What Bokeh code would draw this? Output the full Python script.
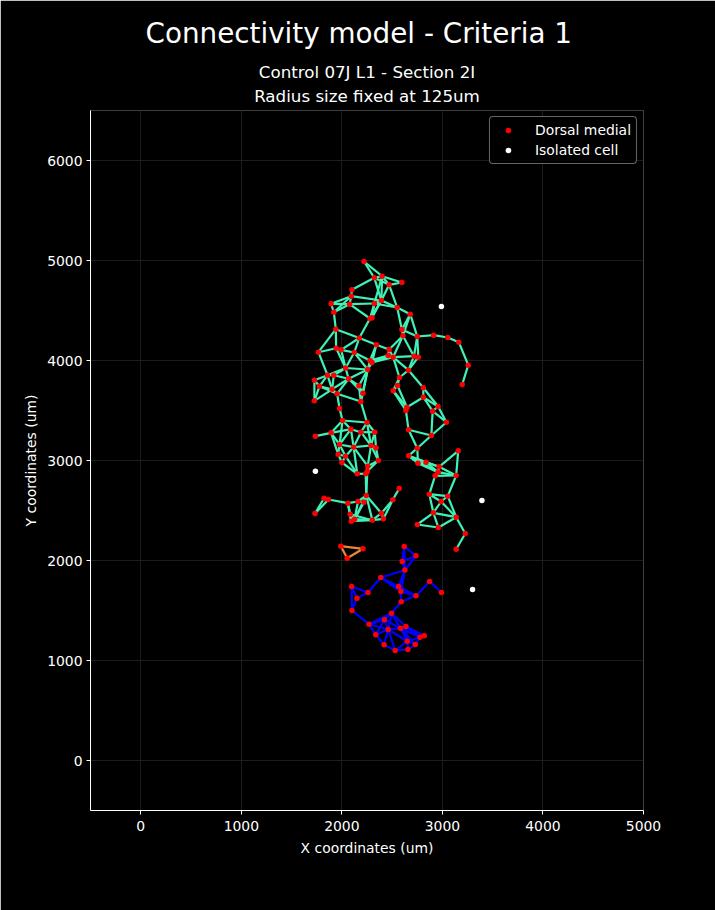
from bokeh.plotting import figure
from bokeh.models import Title, Range1d, Legend, LegendItem
from bokeh.embed import file_html
from bokeh.resources import INLINE

# ---- data (um) ----
# main (green) component
green_x = [2220, 2323, 2400, 2597, 2470, 2100, 2093, 1893, 2077, 2323,
           2393, 1920, 2550, 2680, 2280, 2300, 1940, 2173, 2597, 2607,
           2750, 2913, 3053, 3163, 3257, 3197, 1767, 1943, 1993, 2123,
           2343, 2470, 2460, 2510, 2717, 2760, 2280, 2300, 2037, 2257,
           2663, 1857, 1920, 1727, 2067, 2573, 1777, 1903, 2170, 2553,
           2510, 2810, 1953, 2210, 1727, 2188, 2810, 2957, 2903, 2647,
           2637, 1977, 2007, 2250, 3040, 1737, 1893, 2090, 2190, 2327,
           2663, 2890, 1977, 2117, 2290, 2340, 2750, 1963, 2037, 2000,
           2363, 2663, 3157, 2757, 2837, 2967, 2957, 2927, 3137, 2257,
           2253, 2237, 2153, 2870, 3053, 2987, 2243, 2570, 2507, 1823,
           1867, 2060, 2160, 2220, 1733, 2083, 2127, 2093, 2303, 2393,
           2413, 2910, 3137, 2750, 2960, 3227, 3137]
green_y = [4990, 4827, 4843, 4780, 4757, 4707, 4643, 4567, 4563, 4570,
           4600, 4483, 4530, 4463, 4420, 4427, 4313, 4225, 4310, 4247,
           4240, 4253, 4230, 4183, 3953, 3760, 4083, 4123, 4107, 4080,
           4157, 4110, 4050, 4033, 4043, 4033, 4000, 3980, 3925, 3910,
           3903, 3853, 3853, 3803, 3817, 3830, 3742, 3712, 3748, 3750,
           3697, 3727, 3668, 3673, 3597, 3590, 3633, 3540, 3493, 3533,
           3500, 3520, 3400, 3380, 3383, 3243, 3277, 3313, 3283, 3283,
           3307, 3250, 3160, 3133, 3150, 3127, 3123, 3063, 3043, 2980,
           3000, 3047, 3097, 2973, 2983, 2937, 2883, 2847, 2850, 2943,
           2893, 2867, 2867, 2663, 2643, 2590, 2650, 2720, 2607, 2623,
           2610, 2573, 2590, 2583, 2470, 2463, 2413, 2393, 2403, 2473,
           2417, 2477, 2433, 2360, 2330, 2270, 2113]
green_edges = [
    (0, 1), (0, 2), (1, 2), (2, 3), (4, 3), (1, 4), (2, 4), (1, 5), (1, 10), (2, 10),
    (2, 9), (4, 10), (4, 12), (5, 6), (6, 7), (6, 8), (7, 8), (7, 11), (6, 11), (8, 11),
    (8, 9), (6, 10), (9, 12), (10, 12), (9, 10), (8, 14), (9, 14), (10, 14), (9, 15),
    (10, 15), (14, 15), (11, 16), (14, 17), (16, 17), (12, 13), (12, 18), (13, 18),
    (13, 19), (13, 20), (18, 19), (18, 20), (20, 21), (21, 22), (22, 23), (23, 24),
    (24, 25), (16, 27), (16, 26), (17, 29), (17, 28), (17, 30), (26, 27), (26, 41),
    (27, 28), (27, 38), (28, 29), (28, 38), (29, 38), (29, 36), (29, 39), (30, 31),
    (30, 36), (30, 37), (31, 32), (31, 33), (32, 33), (36, 32), (37, 32), (37, 33),
    (36, 33), (19, 31), (19, 34), (20, 34), (20, 35), (19, 33), (33, 34), (34, 35),
    (33, 40), (34, 40), (35, 40), (36, 37), (37, 39), (36, 39), (38, 39), (38, 44),
    (38, 41), (38, 42), (39, 44), (39, 48), (39, 53), (39, 55), (41, 42), (41, 43),
    (41, 46), (42, 47), (41, 47), (42, 44), (43, 46), (43, 54), (44, 47), (44, 48),
    (44, 52), (44, 53), (46, 47), (46, 54), (46, 52), (47, 52), (47, 54), (48, 53),
    (48, 55), (52, 61), (52, 55), (53, 55), (61, 62), (55, 63), (40, 45), (40, 51),
    (33, 45), (45, 49), (45, 50), (49, 50), (49, 59), (50, 59), (50, 60), (51, 56),
    (51, 57), (56, 57), (56, 58), (57, 58), (57, 64), (58, 64), (59, 60), (59, 56),
    (62, 63), (62, 66), (62, 67), (62, 72), (63, 68), (63, 69), (63, 74), (65, 66),
    (66, 67), (66, 72), (66, 77), (67, 68), (67, 72), (67, 73), (68, 69), (68, 73),
    (68, 74), (69, 74), (69, 75), (72, 73), (72, 77), (72, 78), (73, 74), (73, 78),
    (73, 89), (74, 75), (74, 89), (74, 80), (75, 80), (77, 78), (77, 79), (78, 79),
    (78, 92), (79, 92), (73, 92), (80, 89), (80, 90), (89, 90), (90, 91), (91, 92),
    (89, 91), (91, 96), (90, 96), (60, 70), (70, 71), (70, 76), (71, 76), (64, 71),
    (58, 71), (76, 81), (76, 83), (81, 83), (81, 84), (81, 85), (81, 86), (83, 84),
    (84, 85), (83, 86), (84, 86), (82, 85), (82, 88), (85, 86), (86, 87), (86, 88),
    (87, 88), (85, 88), (87, 93), (88, 94), (93, 94), (93, 95), (94, 95), (96, 102),
    (96, 103), (96, 106), (96, 108), (96, 109), (100, 101), (101, 102), (102, 103),
    (101, 105), (103, 106), (102, 106), (101, 107), (105, 106), (105, 107), (106, 107),
    (106, 108), (107, 108), (105, 108), (108, 109), (108, 110), (109, 110), (97, 98),
    (98, 109), (98, 110), (99, 100), (99, 104), (100, 104), (93, 111), (95, 111),
    (94, 112), (95, 112), (111, 112), (111, 113), (111, 114), (113, 114), (112, 114),
    (112, 115), (115, 116)]

# lower (blue) component
blue_x = [2620, 2737, 2600, 2627, 2387, 2563, 2587, 2590, 2737, 2873,
          2990, 2097, 2260, 2150, 2100, 2493, 2423, 2270, 2460, 2583,
          2637, 2337, 2777, 2820, 2650, 2730, 2420, 2530, 2657]
blue_y = [2140, 2047, 1990, 1905, 1830, 1740, 1690, 1587, 1647, 1790,
          1680, 1740, 1680, 1623, 1500, 1473, 1407, 1363, 1310, 1323,
          1340, 1257, 1233, 1247, 1193, 1160, 1157, 1100, 1110]
blue_edges = [
    (0, 1), (0, 2), (1, 2), (1, 3), (2, 3), (0, 3), (3, 4), (3, 5), (3, 6), (4, 5),
    (4, 6), (5, 6), (5, 8), (6, 8), (6, 7), (7, 8), (8, 9), (9, 10), (4, 12), (11, 12),
    (11, 13), (12, 13), (11, 14), (13, 14), (14, 17), (7, 15), (15, 17), (15, 16),
    (15, 18), (15, 19), (15, 20), (16, 17), (16, 18), (17, 18), (17, 21), (18, 19),
    (18, 21), (18, 26), (19, 20), (19, 24), (20, 22), (20, 23), (20, 24), (22, 23),
    (22, 24), (22, 25), (24, 25), (24, 28), (25, 28), (26, 27), (27, 28), (21, 26),
    (16, 19), (18, 24), (19, 25), (18, 27), (24, 27), (16, 21), (19, 22)]

# small (orange) component
orange_x = [1990, 2210, 2053]
orange_y = [2143, 2117, 2023]
orange_edges = [(0, 1), (1, 2), (2, 0)]

# isolated cells
iso_x = [2990, 1737, 3393, 3300]
iso_y = [4540, 2893, 2600, 1710]

FONT = "DejaVu Sans"

p = figure(width=715, height=910, output_backend="svg", toolbar_location=None,
           title=None, x_range=Range1d(-500, 5000), y_range=Range1d(-500, 6500),
           min_border_left=90, min_border_right=72, min_border_top=110,
           min_border_bottom=100, background_fill_color="black",
           border_fill_color="black")
p.outline_line_color = None


def draw_edges(xs, ys, edges, color):
    p.segment(x0=[xs[a] for a, b in edges], y0=[ys[a] for a, b in edges],
              x1=[xs[b] for a, b in edges], y1=[ys[b] for a, b in edges],
              line_color=color, line_width=2.2)


draw_edges(green_x, green_y, green_edges, "#40F2B6")
draw_edges(blue_x, blue_y, blue_edges, "#0000FF")
draw_edges(orange_x, orange_y, orange_edges, "#E8883A")

nodes = p.scatter(green_x + blue_x + orange_x, green_y + blue_y + orange_y,
                  size=5.5, color="red", line_color=None)
iso = p.scatter(iso_x, iso_y, size=5.5, color="white", line_color=None)

legend = Legend(items=[LegendItem(label="Dorsal medial", renderers=[nodes]),
                       LegendItem(label="Isolated cell", renderers=[iso])],
                location="top_right", margin=6, padding=5, spacing=4,
                glyph_width=26, glyph_height=14, label_standoff=14,
                label_text_font=FONT, label_text_font_size="13.9px",
                label_text_color="white", background_fill_color="black",
                background_fill_alpha=0.8, border_line_color="#cccccc",
                border_radius=4)
p.add_layout(legend)

# titles (added bottom-up)
p.add_layout(Title(text="Radius size fixed at 125um", align="center",
                   text_font=FONT, text_font_size="16.7px", text_font_style="normal",
                   text_color="white", standoff=9), "above")
p.add_layout(Title(text="Control 07J L1 - Section 2I", align="center",
                   text_font=FONT, text_font_size="16.7px", text_font_style="normal",
                   text_color="white", standoff=-5), "above")
p.add_layout(Title(text="Connectivity model - Criteria 1", align="left",
                   text_font=FONT, text_font_size="27.8px", text_font_style="normal",
                   text_color="white", standoff=25, offset=55), "above")

p.xaxis.ticker = [0, 1000, 2000, 3000, 4000, 5000]
p.yaxis.ticker = [0, 1000, 2000, 3000, 4000, 5000, 6000]
p.xaxis.axis_label = "X coordinates (um)"
p.yaxis.axis_label = "Y coordinates (um)"
for ax in (p.xaxis, p.yaxis):
    ax.axis_line_color = "white"
    ax.major_tick_line_color = "white"
    ax.minor_tick_line_color = None
    ax.major_tick_in = 0
    ax.major_tick_out = 4
    ax.major_label_text_color = "white"
    ax.major_label_text_font = FONT
    ax.major_label_text_font_size = "13.9px"
    ax.axis_label_text_color = "white"
    ax.axis_label_text_font = FONT
    ax.axis_label_text_font_size = "13.9px"
    ax.axis_label_text_font_style = "normal"
p.xaxis.major_label_standoff = 6
p.yaxis.major_label_standoff = 4
p.xaxis.axis_label_standoff = 6
p.yaxis.axis_label_standoff = 5
p.yaxis.major_label_orientation = "horizontal"
p.grid.grid_line_color = "#1c1c1c"
p.grid.grid_line_width = 1

open("out.html", "w").write(file_html(p, INLINE))
